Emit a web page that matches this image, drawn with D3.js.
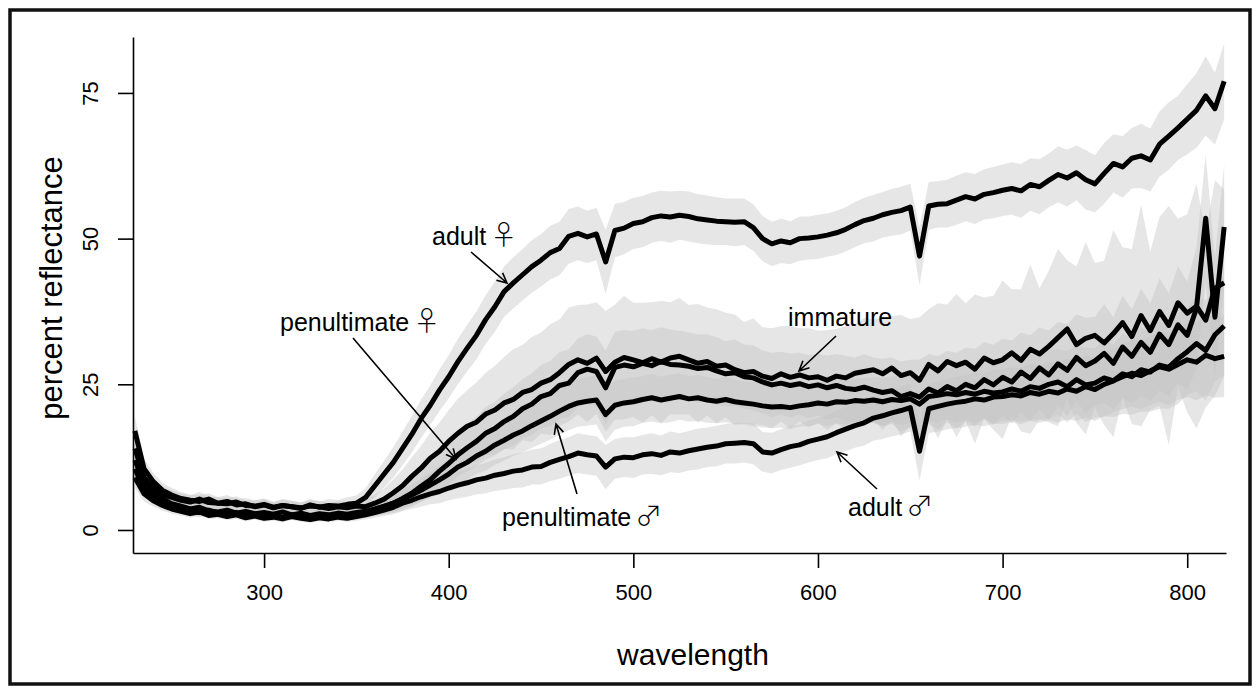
<!DOCTYPE html>
<html>
<head>
<meta charset="utf-8">
<script src="https://cdn.jsdelivr.net/npm/d3@7/dist/d3.min.js"></script>
<style>
  body { margin: 0; background: #fff; }
  text { font-family: "Liberation Sans", Arial, Helvetica, sans-serif; fill: #000; }
  .sym { font-family: "Noto Sans CJK JP", "DejaVu Sans", sans-serif; }
</style>
</head>
<body>
<div id="chart"></div>
<script>
// wavelength grid, 5 nm steps from 230 to 820
var wavelengths = d3.range(230, 821, 5);

// mean reflectance, rows of 50 nm
var adultFemale = [
  14, 9, 7.2, 6, 5.6, 5.1, 4.8, 5.3, 4.7, 4.6,
  4.9, 4.3, 4.5, 4.0, 4.3, 3.8, 4.2, 4.0, 3.7, 4.3,
  3.9, 4.2, 4.1, 4.4, 4.6, 5.6, 7.6, 9.6, 11.6, 14.0,
  16.4, 19.1, 21.4, 24.0, 26.3, 28.9, 31.2, 33.4, 36.1, 38.3,
  40.9, 42.4, 43.8, 45.2, 46.3, 47.6, 48.3, 50.4, 50.9, 50.3,
  50.8, 46.0, 51.4, 51.8, 52.6, 52.9, 53.6, 53.9, 53.7, 54.0,
  53.8, 53.4, 53.2, 53.0, 52.9, 52.8, 52.9, 51.9, 50.0, 49.1,
  49.6, 49.3, 50.0, 50.1, 50.3, 50.6, 51.0, 51.6, 52.4, 53.1,
  53.5, 54.1, 54.5, 54.8, 55.4, 47.0, 55.6, 55.9, 56.0, 56.6,
  57.2, 56.8, 57.6, 57.9, 58.3, 58.6, 58.2, 59.3, 58.9, 60.0,
  61.0, 60.4, 61.3, 60.1, 59.4, 61.2, 62.9, 62.3, 63.8, 64.2,
  63.5, 66.2, 67.6, 69.0, 70.5, 72.0, 74.5, 72.3, 77.0
];
var immature = [
  17.0, 10.5, 8.3, 6.8, 6.0, 5.4, 5.1, 4.9, 5.3, 4.6,
  4.5, 4.8, 4.2, 4.1, 4.4, 3.9, 4.2, 4.0, 3.8, 4.1,
  4.0, 3.7, 4.0, 3.8, 4.1, 4.0, 4.6, 5.3, 6.4, 7.6,
  9.2, 10.6, 12.3, 13.5, 15.2, 16.6, 17.8, 18.5, 19.9, 20.6,
  21.8, 22.4, 23.6, 24.1, 25.2, 25.8, 27.0, 28.4, 29.2, 28.6,
  29.5, 27.2, 28.8, 29.6, 29.2, 28.7, 29.4, 28.8, 29.5, 29.8,
  29.2, 28.6, 28.9, 28.1, 28.3, 27.5, 27.0, 27.2, 26.4, 26.0,
  26.8, 26.2, 26.6, 26.1, 26.3, 25.7, 26.4, 26.1, 26.9, 27.2,
  27.5, 26.8, 27.8, 26.5, 27.0, 25.7, 28.4, 27.3, 28.9, 28.2,
  28.8, 27.6, 29.5, 28.7, 29.2, 30.4, 29.1, 31.0, 30.2, 31.5,
  33.0, 34.5, 31.8, 32.9, 33.4, 32.1, 33.7, 35.6, 33.2, 36.8,
  34.2, 37.5, 35.1, 39.0, 37.2, 38.4, 36.0, 41.5, 42.4
];
var penultFemale = [
  12.0, 8.2, 6.4, 5.3, 4.5, 4.1, 3.6, 3.9, 3.3, 3.1,
  3.4, 2.9, 3.2, 2.8, 3.0, 2.7, 3.1, 2.6, 2.9, 2.5,
  2.8, 2.6, 2.9, 2.7, 3.0, 3.2, 3.6, 4.1, 4.6, 5.4,
  6.3, 7.5, 8.6, 10.1, 11.4, 12.9, 14.1, 15.2, 16.6, 17.4,
  18.6, 19.5, 20.8, 21.6, 22.9, 23.4, 24.8, 25.2, 27.0, 27.6,
  27.2, 24.4, 27.9, 28.3, 28.0, 28.6, 28.2, 28.9, 28.4, 28.3,
  28.1, 27.7, 27.9, 27.3, 26.8, 27.0, 26.3, 26.1, 25.4, 24.9,
  25.2, 24.8, 25.1, 24.6, 24.9, 24.4, 24.8, 24.3, 24.1, 24.5,
  24.0, 23.6, 23.9, 22.9, 23.4, 22.8, 24.2, 23.5, 24.6, 23.9,
  25.0, 24.4, 25.8, 24.9, 26.2, 25.4, 27.1, 26.0, 27.8, 26.6,
  28.5, 27.4, 29.6, 28.2, 29.0, 30.3, 28.6, 31.4, 29.8, 32.2,
  30.5, 33.6, 31.8, 35.2, 33.4, 38.0, 53.5, 36.5, 52.0
];
var penultMale = [
  10.5, 7.0, 5.6, 4.6, 4.0, 3.6, 3.3, 3.0, 3.4, 2.8,
  2.6, 3.0, 2.4, 2.7, 2.3, 2.5, 2.2, 2.6, 2.4, 2.1,
  2.4, 2.2, 2.5, 2.3, 2.6, 3.0, 3.5, 4.0, 4.6, 5.3,
  6.0, 6.8, 7.7, 8.6, 9.6, 10.8, 11.6, 12.7, 13.5, 14.6,
  15.4, 16.3, 17.0, 17.9, 18.7, 19.5, 20.4, 21.2, 21.8, 22.1,
  22.3, 19.8, 21.4, 21.8, 22.0, 22.4, 22.7, 22.3, 22.6, 22.9,
  22.5, 22.7, 22.3, 22.1, 22.4, 22.0, 21.8, 21.6, 21.3, 21.1,
  21.2, 21.0, 21.3, 21.5, 21.8, 21.6, 22.0, 21.9, 22.2, 22.1,
  22.3, 22.0, 22.4, 22.2, 22.5, 21.6, 22.9, 23.1, 23.4, 23.2,
  23.6, 23.3, 23.8, 23.5, 23.7, 24.2, 23.8, 24.6, 24.3, 25.0,
  25.4, 24.6, 25.8, 24.9, 25.2, 26.1, 25.6, 26.8, 26.3, 27.5,
  27.1, 28.3, 27.9, 29.4, 30.6, 32.0, 30.8, 33.5, 35.0
];
var adultMale = [
  9.0, 6.2, 5.0, 4.2, 3.6, 3.2, 2.8, 3.1, 2.5, 2.7,
  2.3, 2.6, 2.1, 2.4, 2.0, 2.2, 1.9, 2.3, 2.0, 1.8,
  2.1, 1.9, 2.2, 2.0, 2.3, 2.6, 3.0, 3.4, 3.9, 4.6,
  5.1, 5.7, 6.2, 6.6, 7.2, 7.7, 8.1, 8.6, 8.9, 9.4,
  9.7, 10.1, 10.3, 10.8, 10.9, 11.6, 12.1, 12.6, 13.2, 12.9,
  12.7, 10.8, 12.2, 12.5, 12.4, 12.9, 13.1, 12.8, 13.4, 13.2,
  13.6, 13.9, 14.2, 14.4, 14.8, 14.9, 15.0, 14.8, 13.4, 13.2,
  13.8, 14.3, 14.6, 15.2, 15.6, 16.0, 16.7, 17.3, 17.9, 18.4,
  19.2, 19.6, 20.1, 20.5, 21.0, 13.5, 20.8, 21.2, 21.6, 21.9,
  22.1, 22.5, 22.3, 22.8, 22.9, 23.2, 23.0, 23.6, 23.3, 23.8,
  23.5, 24.2, 23.8, 24.6, 24.1, 25.0, 25.6, 26.3, 26.9, 26.5,
  27.3, 28.0, 27.6, 28.4, 29.2, 28.8, 30.0, 29.4, 29.8
];

// spread around each mean (half width of the grey band)
var adultFemaleSd = [
  3.0, 2.0, 1.6, 1.4, 1.2, 1.2, 1.1, 1.2, 1.1, 1.0,
  1.1, 1.0, 1.0, 1.1, 1.0, 1.0, 1.1, 1.0, 1.0, 1.0,
  1.0, 1.1, 1.0, 1.2, 1.3, 1.6, 2.0, 2.3, 2.6, 2.9,
  3.1, 3.3, 3.4, 3.6, 3.7, 3.9, 4.0, 4.1, 4.2, 4.3,
  4.3, 4.4, 4.4, 4.5, 4.5, 4.6, 4.6, 4.7, 4.6, 4.5,
  4.5, 5.5, 4.6, 4.5, 4.4, 4.4, 4.3, 4.3, 4.4, 4.2,
  4.3, 4.2, 4.2, 4.1, 4.0, 4.1, 4.0, 4.0, 3.9, 3.8,
  3.8, 3.7, 3.8, 3.7, 3.8, 3.7, 3.8, 3.8, 3.9, 3.9,
  4.0, 3.9, 4.0, 4.1, 4.0, 5.0, 4.1, 4.0, 4.1, 4.2,
  4.2, 4.3, 4.3, 4.4, 4.4, 4.5, 4.6, 4.5, 4.7, 4.6,
  4.8, 4.9, 4.7, 5.1, 4.9, 5.2, 5.0, 5.3, 5.2, 5.5,
  5.4, 5.6, 5.8, 5.5, 6.0, 6.4, 6.8, 6.2, 6.5
];
var immatureSd = [
  2.5, 1.8, 1.5, 1.3, 1.2, 1.1, 1.0, 1.1, 1.0, 1.0,
  1.0, 1.0, 0.9, 1.0, 1.0, 0.9, 1.0, 1.0, 0.9, 1.0,
  1.0, 0.9, 1.0, 1.0, 1.1, 1.2, 1.5, 1.8, 2.3, 2.8,
  3.3, 3.8, 4.4, 4.9, 5.4, 5.9, 6.2, 6.8, 7.1, 7.6,
  7.9, 8.6, 8.2, 9.0, 8.7, 9.5, 9.1, 9.8, 9.4, 10.1,
  9.6, 10.4, 9.9, 10.6, 9.8, 10.3, 9.7, 10.5, 9.6, 10.0,
  9.4, 10.2, 9.3, 9.8, 9.0, 9.5, 8.7, 9.1, 8.4, 8.6,
  8.2, 8.8, 8.0, 8.5, 7.9, 8.6, 8.1, 8.9, 8.3, 9.2,
  8.6, 9.6, 8.9, 10.4, 9.2, 10.8, 9.5, 11.6, 9.8, 12.3,
  10.1, 12.8, 10.4, 11.5, 13.6, 10.9, 12.2, 14.5, 11.3, 13.0,
  15.2, 11.8, 13.4, 16.5, 12.4, 14.1, 17.8, 12.9, 15.0, 19.0,
  13.6, 16.2, 20.5, 14.4, 17.0, 21.0, 15.0, 18.5, 16.0
];
var penultFemaleSd = [
  2.2, 1.5, 1.2, 1.0, 0.9, 0.9, 0.8, 0.9, 0.8, 0.8,
  0.8, 0.8, 0.7, 0.8, 0.8, 0.7, 0.8, 0.8, 0.7, 0.8,
  0.8, 0.7, 0.8, 0.8, 0.9, 1.0, 1.2, 1.4, 1.7, 2.0,
  2.3, 2.6, 2.9, 3.2, 3.5, 3.7, 4.0, 4.2, 4.5, 4.6,
  4.8, 5.0, 5.1, 5.3, 5.4, 5.6, 5.7, 5.8, 5.9, 6.0,
  6.0, 6.4, 6.1, 6.0, 6.2, 6.0, 6.1, 5.9, 6.0, 5.9,
  5.8, 5.9, 5.7, 5.8, 5.6, 5.7, 5.5, 5.6, 5.4, 5.5,
  5.4, 5.5, 5.3, 5.4, 5.3, 5.5, 5.4, 5.6, 5.5, 5.7,
  5.6, 5.8, 5.7, 6.0, 5.8, 6.4, 6.0, 6.3, 6.1, 6.5,
  6.3, 6.7, 6.4, 6.9, 6.6, 7.1, 6.8, 7.4, 7.0, 7.6,
  7.2, 7.9, 7.4, 8.2, 7.6, 8.5, 7.9, 8.8, 8.1, 9.2,
  8.4, 9.6, 8.8, 10.0, 9.2, 10.5, 11.0, 10.2, 10.8
];
var penultMaleSd = [
  2.0, 1.4, 1.1, 0.9, 0.8, 0.8, 0.7, 0.8, 0.7, 0.7,
  0.7, 0.7, 0.7, 0.7, 0.7, 0.7, 0.7, 0.7, 0.7, 0.7,
  0.7, 0.7, 0.7, 0.7, 0.8, 0.9, 1.0, 1.2, 1.4, 1.6,
  1.8, 2.0, 2.2, 2.4, 2.6, 2.8, 3.0, 3.1, 3.3, 3.4,
  3.5, 3.6, 3.7, 3.8, 3.9, 4.0, 4.0, 4.1, 4.1, 4.2,
  4.2, 4.6, 4.2, 4.1, 4.2, 4.0, 4.1, 4.0, 4.1, 4.0,
  3.9, 4.0, 3.9, 3.8, 3.9, 3.8, 3.7, 3.8, 3.7, 3.6,
  3.6, 3.7, 3.6, 3.7, 3.6, 3.8, 3.7, 3.9, 3.8, 4.0,
  3.9, 4.1, 4.0, 4.2, 4.1, 4.5, 4.3, 4.6, 4.4, 4.8,
  4.6, 5.0, 4.8, 5.2, 5.0, 5.4, 5.2, 5.7, 5.4, 5.9,
  5.6, 6.1, 5.8, 6.4, 6.0, 6.6, 6.2, 6.9, 6.5, 7.2,
  6.8, 7.5, 7.1, 7.8, 7.4, 8.2, 8.6, 8.0, 8.4
];
var adultMaleSd = [
  1.8, 1.3, 1.0, 0.9, 0.8, 0.7, 0.7, 0.7, 0.6, 0.7,
  0.6, 0.7, 0.6, 0.6, 0.6, 0.6, 0.6, 0.6, 0.6, 0.6,
  0.6, 0.6, 0.6, 0.6, 0.7, 0.8, 0.9, 1.0, 1.2, 1.4,
  1.5, 1.7, 1.8, 2.0, 2.1, 2.3, 2.4, 2.5, 2.6, 2.7,
  2.8, 2.9, 3.0, 3.0, 3.1, 3.2, 3.3, 3.3, 3.4, 3.4,
  3.4, 3.8, 3.4, 3.4, 3.5, 3.4, 3.5, 3.4, 3.5, 3.4,
  3.4, 3.5, 3.4, 3.5, 3.4, 3.5, 3.4, 3.5, 3.4, 3.5,
  3.5, 3.6, 3.5, 3.6, 3.6, 3.7, 3.7, 3.8, 3.8, 3.9,
  3.9, 4.0, 4.0, 4.1, 4.1, 5.0, 4.2, 4.3, 4.3, 4.4,
  4.4, 4.5, 4.5, 4.6, 4.7, 4.7, 4.8, 4.9, 4.9, 5.0,
  5.1, 5.2, 5.1, 5.3, 5.4, 5.5, 5.4, 5.6, 5.7, 5.8,
  5.9, 6.0, 6.2, 6.1, 6.4, 6.6, 6.9, 6.7, 7.0
];

var xTicks = [300, 400, 500, 600, 700, 800];
var yTicks = [0, 25, 50, 75];

// label text, sex symbol, label anchor, arrow tail and head (page pixels)
var notes = [
  { label: "adult", sym: "\u2640", tx: 432, ty: 245, x1: 471, y1: 252, x2: 507, y2: 283 },
  { label: "penultimate", sym: "\u2640", tx: 280, ty: 331, x1: 353, y1: 338, x2: 456, y2: 459 },
  { label: "immature", sym: "", tx: 788, ty: 326, x1: 836, y1: 336, x2: 799, y2: 371 },
  { label: "penultimate", sym: "\u2642", tx: 502, ty: 526, x1: 577, y1: 494, x2: 556, y2: 424 },
  { label: "adult", sym: "\u2642", tx: 848, ty: 516, x1: 877, y1: 489, x2: 837, y2: 452 }
];

(function() {
  var width = 1260;
  var height = 693;

  var svg = d3
    .select("#chart")
    .append("svg")
    .attr("width", width)
    .attr("height", height);

  svg
    .append("rect")
    .attr("x", 10)
    .attr("y", 10)
    .attr("width", 1240)
    .attr("height", 674)
    .attr("fill", "#fff")
    .attr("stroke", "#111")
    .attr("stroke-width", 3.5);

  var x = d3.scaleLinear().domain([229, 821]).range([133, 1226]);
  var y = d3.scaleLinear().domain([-3.95, 84.6]).range([553, 37]);

  var groups = [
    [adultFemale, adultFemaleSd],
    [immature, immatureSd],
    [penultFemale, penultFemaleSd],
    [penultMale, penultMaleSd],
    [adultMale, adultMaleSd]
  ].map(function(g) {
    return wavelengths.map(function(w, i) {
      return { w: w, m: g[0][i], s: g[1][i] };
    });
  });

  var band = d3
    .area()
    .x(function(d) { return x(d.w); })
    .y0(function(d) { return y(d.m - d.s); })
    .y1(function(d) { return y(d.m + d.s); });

  var line = d3
    .line()
    .x(function(d) { return x(d.w); })
    .y(function(d) { return y(d.m); });

  svg
    .selectAll(".band")
    .data(groups)
    .enter()
    .append("path")
    .attr("class", "band")
    .attr("d", band)
    .attr("fill", "#c4c4c4")
    .attr("fill-opacity", 0.42);

  svg
    .selectAll(".mean")
    .data(groups)
    .enter()
    .append("path")
    .attr("class", "mean")
    .attr("d", line)
    .attr("fill", "none")
    .attr("stroke", "#000")
    .attr("stroke-width", 5)
    .attr("stroke-linejoin", "round");

  // axes
  var xAxis = svg
    .append("g")
    .attr("transform", "translate(0,553)")
    .call(d3.axisBottom(x).tickValues(xTicks).tickSize(15).tickSizeOuter(0));
  xAxis.selectAll("text").attr("y", 47).attr("dy", 0).style("font-size", "22px");

  var yAxis = svg
    .append("g")
    .attr("transform", "translate(133,0)")
    .call(d3.axisLeft(y).tickValues(yTicks).tickSize(15).tickSizeOuter(0));
  yAxis
    .selectAll("text")
    .attr("transform", "rotate(-90)")
    .attr("x", 0)
    .attr("y", -35)
    .attr("dy", 0)
    .attr("text-anchor", "middle")
    .style("font-size", "22px");

  svg.selectAll(".domain, .tick line").attr("stroke", "#000").attr("stroke-width", 1.6);

  svg
    .append("text")
    .attr("x", 693)
    .attr("y", 665)
    .attr("text-anchor", "middle")
    .style("font-size", "30px")
    .text("wavelength");

  svg
    .append("text")
    .attr("transform", "translate(62,288) rotate(-90)")
    .attr("text-anchor", "middle")
    .style("font-size", "31px")
    .text("percent reflectance");

  // labels with arrows
  var labels = svg
    .selectAll(".note")
    .data(notes)
    .enter()
    .append("text")
    .attr("class", "note")
    .attr("x", function(d) { return d.tx; })
    .attr("y", function(d) { return d.ty; })
    .style("font-size", "25px");
  labels.append("tspan").text(function(d) { return d.label; });
  labels
    .append("tspan")
    .attr("class", "sym")
    .attr("dx", 4)
    .style("font-size", "27px")
    .style("font-weight", 300)
    .text(function(d) { return d.sym; });

  svg
    .selectAll(".arrow")
    .data(notes)
    .enter()
    .append("path")
    .attr("class", "arrow")
    .attr("fill", "none")
    .attr("stroke", "#000")
    .attr("stroke-width", 1.6)
    .attr("d", function(d) {
      var a = Math.atan2(d.y2 - d.y1, d.x2 - d.x1);
      var len = 11;
      var spread = Math.PI / 7;
      var h1 = [d.x2 - len * Math.cos(a - spread), d.y2 - len * Math.sin(a - spread)];
      var h2 = [d.x2 - len * Math.cos(a + spread), d.y2 - len * Math.sin(a + spread)];
      return "M" + d.x1 + "," + d.y1 + "L" + d.x2 + "," + d.y2 +
        "M" + h1 + "L" + d.x2 + "," + d.y2 + "L" + h2;
    });
})();
</script>
</body>
</html>
